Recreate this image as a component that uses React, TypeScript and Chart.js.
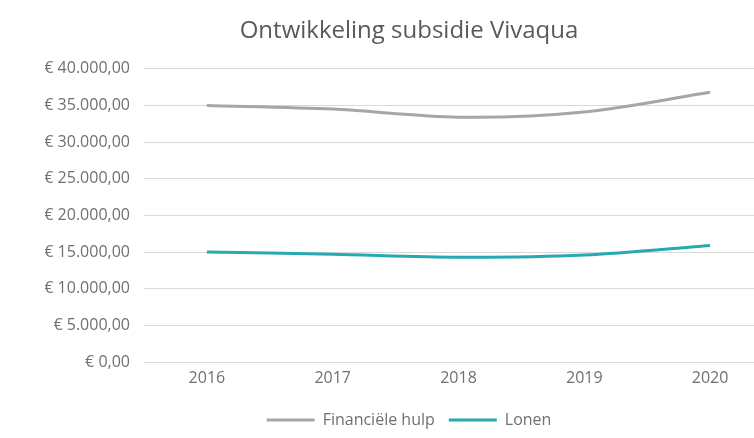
import React, { useEffect, useRef } from "react";
import { Chart, registerables } from "chart.js";

Chart.register(...registerables);

const categories = ["2016", "2017", "2018", "2019", "2020"];
const financieleHulp = [35000, 34500, 33400, 34100, 36800];
const lonen = [15000, 14700, 14300, 14600, 15900];
const yTicks = [0, 5000, 10000, 15000, 20000, 25000, 30000, 35000, 40000];

const FONT = "'Open Sans', 'DejaVu Sans', sans-serif";
const TEXT = "#707070";

function euro(v: number): string {
  const s = Math.round(v).toString().replace(/\B(?=(\d{3})+(?!\d))/g, ".");
  return "€ " + s + ",00";
}

export default function App() {
  const ref = useRef<HTMLCanvasElement | null>(null);
  useEffect(() => {
    document.body.style.margin = "0";
    document.body.style.overflow = "hidden";
    const canvas = ref.current!;
    const chart = new Chart(canvas, {
      type: "line",
      data: {
        labels: categories,
        datasets: [
          {
            label: "Financiële hulp",
            data: financieleHulp,
            borderColor: "#a6a6a6",
            backgroundColor: "#a6a6a6",
            borderWidth: 3,
            pointRadius: 0,
            tension: 0.3,
          },
          {
            label: "Lonen",
            data: lonen,
            borderColor: "#27a9b1",
            backgroundColor: "#27a9b1",
            borderWidth: 3,
            pointRadius: 0,
            tension: 0.3,
          },
        ],
      },
      options: {
        responsive: false,
        animation: false,
        layout: { padding: { left: 45, right: 45, top: 0, bottom: 0 } },
        plugins: {
          title: {
            display: true,
            text: "Ontwikkeling subsidie Vivaqua",
            color: "#595959",
            font: { family: FONT, size: 24, weight: "normal" },
            padding: { top: 17, bottom: 23 },
          },
          legend: {
            position: "bottom",
            labels: {
              usePointStyle: true,
              pointStyle: "line",
              pointStyleWidth: 48,
              color: TEXT,
              font: { family: FONT, size: 16 },
              padding: 14,
            },
          },
          tooltip: { enabled: false },
        },
        scales: {
          x: {
            offset: true,
            grid: { display: false, drawTicks: false },
            border: { display: false },
            ticks: { color: TEXT, font: { family: FONT, size: 16 }, padding: 7, maxRotation: 0 },
            afterFit: (scale: any) => {
              scale.height = 36;
            },
          },
          y: {
            min: 0,
            max: 40000,
            afterBuildTicks: (scale: any) => {
              scale.ticks = yTicks.map((v) => ({ value: v }));
            },
            grid: { color: "#d9d9d9", lineWidth: 1, drawTicks: false },
            border: { display: false },
            ticks: {
              color: TEXT,
              font: { family: FONT, size: 16 },
              padding: 14,
              callback: (v: any) => euro(Number(v)),
            },
            afterFit: (scale: any) => {
              scale.width = 99;
            },
          },
        },
      },
    });
    return () => chart.destroy();
  }, []);
  return (
    <div style={{ position: "fixed", left: 0, top: 0, width: 754, height: 438, overflow: "hidden", background: "#fff" }}>
      <canvas ref={ref} width={818} height={438} style={{ display: "block", width: 818, height: 438 }} />
    </div>
  );
}
